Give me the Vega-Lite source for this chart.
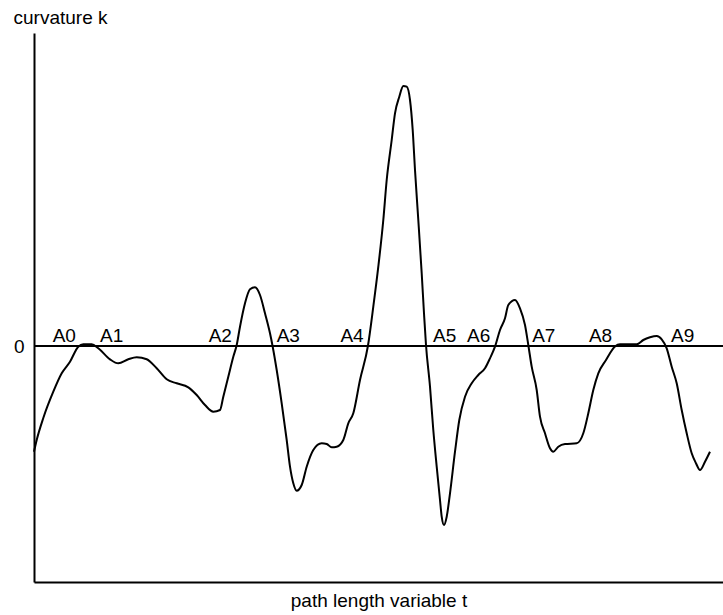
{
  "$schema": "https://vega.github.io/schema/vega-lite/v6.json",
  "width": 689,
  "height": 549,
  "autosize": {"type": "none"},
  "padding": {"left": 34, "top": 33, "right": 0, "bottom": 33},
  "background": "white",
  "config": {"view": {"stroke": null}, "font": "Liberation Sans"},
  "datasets": {
    "curve": [
      {"t": 0, "k": -105.7}, {"t": 2.7, "k": -94}, {"t": 9.3, "k": -72}, {"t": 19.3, "k": -45.7},
      {"t": 27.7, "k": -27.3}, {"t": 36, "k": -15.7}, {"t": 44.3, "k": -0.7}, {"t": 49.3, "k": 1.7},
      {"t": 57.7, "k": 1.7}, {"t": 64.3, "k": -2.3}, {"t": 76, "k": -13.3}, {"t": 84.3, "k": -17.3},
      {"t": 94.3, "k": -13.3}, {"t": 102.7, "k": -11.3}, {"t": 112.7, "k": -13.3}, {"t": 122.7, "k": -22.3},
      {"t": 132.7, "k": -33.3}, {"t": 142.7, "k": -37.3}, {"t": 154.3, "k": -41.3}, {"t": 162.7, "k": -49},
      {"t": 171, "k": -59}, {"t": 179.3, "k": -65.7}, {"t": 186, "k": -64}, {"t": 189.3, "k": -50.7},
      {"t": 194.3, "k": -30.7}, {"t": 199.3, "k": -10.7}, {"t": 202.7, "k": 1}, {"t": 206, "k": 19.3},
      {"t": 211, "k": 42.7}, {"t": 216, "k": 56.7}, {"t": 221, "k": 58.7}, {"t": 226, "k": 51},
      {"t": 231, "k": 32.7}, {"t": 236, "k": 12.7}, {"t": 238.7, "k": -0.7}, {"t": 242.7, "k": -24},
      {"t": 247.7, "k": -57.3}, {"t": 252.7, "k": -94}, {"t": 256, "k": -120.7}, {"t": 259.3, "k": -137.3},
      {"t": 262.7, "k": -144.7}, {"t": 267.7, "k": -139}, {"t": 272.7, "k": -120.7}, {"t": 279.3, "k": -104},
      {"t": 287.7, "k": -97.3}, {"t": 292.7, "k": -98}, {"t": 297.7, "k": -101.3}, {"t": 302.7, "k": -100.7},
      {"t": 309.3, "k": -94}, {"t": 314.3, "k": -77.3}, {"t": 319.3, "k": -67.3}, {"t": 326, "k": -34},
      {"t": 334, "k": 0.5}, {"t": 339.3, "k": 39.3}, {"t": 344.3, "k": 79.3}, {"t": 349.3, "k": 126},
      {"t": 352.7, "k": 166}, {"t": 357.7, "k": 206}, {"t": 361, "k": 232.7}, {"t": 365.3, "k": 249.3},
      {"t": 369.3, "k": 260}, {"t": 372.7, "k": 259.3}, {"t": 376, "k": 246}, {"t": 378.7, "k": 216},
      {"t": 381, "k": 176}, {"t": 384.3, "k": 126}, {"t": 387.7, "k": 72.7}, {"t": 390, "k": 32.7},
      {"t": 392, "k": 1}, {"t": 396, "k": -40.7}, {"t": 399.3, "k": -84}, {"t": 402.7, "k": -120.7},
      {"t": 406, "k": -154}, {"t": 407.7, "k": -170.7}, {"t": 410, "k": -179}, {"t": 412.7, "k": -170.7},
      {"t": 416, "k": -147.3}, {"t": 421, "k": -105.7}, {"t": 425.3, "k": -74}, {"t": 431, "k": -50.7},
      {"t": 437.7, "k": -37.3}, {"t": 444.3, "k": -29}, {"t": 451, "k": -22.3}, {"t": 456, "k": -12.3},
      {"t": 461, "k": -0.7}, {"t": 466, "k": 16}, {"t": 471, "k": 27.7}, {"t": 474.3, "k": 41},
      {"t": 481, "k": 46}, {"t": 486, "k": 37.7}, {"t": 491, "k": 21}, {"t": 494.3, "k": 1},
      {"t": 497.7, "k": -20.7}, {"t": 502.7, "k": -44}, {"t": 506, "k": -70.7}, {"t": 511, "k": -87.3},
      {"t": 516, "k": -102.3}, {"t": 519.3, "k": -105.7}, {"t": 524.3, "k": -100.7}, {"t": 531, "k": -98},
      {"t": 542.7, "k": -97.3}, {"t": 549.3, "k": -87.3}, {"t": 554.3, "k": -67.3}, {"t": 559.3, "k": -44},
      {"t": 564.3, "k": -27.3}, {"t": 572, "k": -14}, {"t": 581, "k": -0.5}, {"t": 586, "k": 1.7},
      {"t": 602.7, "k": 1.7}, {"t": 609.3, "k": 6}, {"t": 616, "k": 8.7}, {"t": 622.7, "k": 10},
      {"t": 627.7, "k": 6.7}, {"t": 632.7, "k": -2.3}, {"t": 637.7, "k": -20.7}, {"t": 642.7, "k": -37.3},
      {"t": 647.7, "k": -64}, {"t": 652.7, "k": -87.3}, {"t": 657.7, "k": -107.3}, {"t": 662, "k": -117.3},
      {"t": 666, "k": -124}, {"t": 671, "k": -115.7}, {"t": 676, "k": -105.7}
    ],
    "points": [
      {"label": "A0", "t": 30.3, "k": 0}, {"label": "A1", "t": 77.7, "k": 0},
      {"label": "A2", "t": 186.3, "k": 0}, {"label": "A3", "t": 254.3, "k": 0},
      {"label": "A4", "t": 318, "k": 0}, {"label": "A5", "t": 410.7, "k": 0},
      {"label": "A6", "t": 444.7, "k": 0}, {"label": "A7", "t": 509.8, "k": 0},
      {"label": "A8", "t": 566.5, "k": 0}, {"label": "A9", "t": 648.7, "k": 0}
    ],
    "zero": [{"k": 0}]
  },
  "layer": [
    {
      "data": {"name": "curve"},
      "mark": {"type": "line", "color": "black", "strokeWidth": 2, "interpolate": "monotone"},
      "encoding": {
        "x": {
          "field": "t", "type": "quantitative",
          "scale": {"domain": [0, 689], "nice": false, "zero": false},
          "axis": {
            "title": "path length variable t", "ticks": false, "labels": false, "grid": false,
            "domainColor": "black", "domainWidth": 2,
            "titleFontSize": 19, "titleFontWeight": "normal", "titleColor": "black", "titlePadding": 9
          }
        },
        "y": {
          "field": "k", "type": "quantitative",
          "scale": {"domain": [-236, 313], "nice": false, "zero": false},
          "axis": {
            "title": "curvature k", "values": [0], "ticks": false, "grid": false,
            "domainColor": "black", "domainWidth": 2,
            "labelFontSize": 19, "labelColor": "black", "labelPadding": 10,
            "titleAngle": 0, "titleAlign": "left", "titleBaseline": "alphabetic",
            "titleX": -21, "titleY": -10,
            "titleFontSize": 19, "titleFontWeight": "normal", "titleColor": "black"
          }
        }
      }
    },
    {
      "data": {"name": "zero"},
      "mark": {"type": "rule", "color": "black", "strokeWidth": 2},
      "encoding": {"y": {"field": "k", "type": "quantitative"}}
    },
    {
      "data": {"name": "points"},
      "mark": {"type": "text", "fontSize": 19, "baseline": "alphabetic", "align": "center", "dy": -4, "color": "black"},
      "encoding": {
        "x": {"field": "t", "type": "quantitative"},
        "y": {"field": "k", "type": "quantitative"},
        "text": {"field": "label"}
      }
    }
  ]
}
